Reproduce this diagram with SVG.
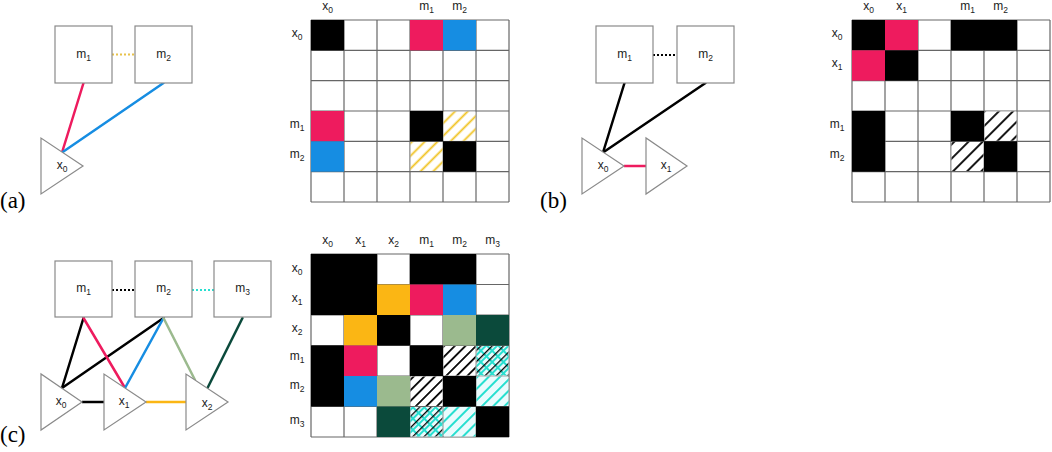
<svg xmlns="http://www.w3.org/2000/svg" width="1052" height="452" viewBox="0 0 1052 452">
<style>
.node rect,.node polygon{fill:#fff;stroke:#8a8a8a;stroke-width:1.2}
.lbl{font-size:12px;fill:#222;text-anchor:middle}
.sub{font-size:8.5px}
.pl{font-size:23px;fill:#000}
.e{stroke-width:2.5;fill:none;stroke-linecap:round}
.d{stroke-width:2.2;fill:none;stroke-linecap:butt;stroke-dasharray:2 2}
.grid line{stroke:#666;stroke-width:1.2}
.k{fill:#000}.p{fill:#EE1B5E}.b{fill:#168DE2}.y{fill:#FBB614}.s{fill:#9BBA8E}.g{fill:#0B4A3B}
</style>
<defs>
<pattern id="hy" width="9" height="9" patternUnits="userSpaceOnUse" patternTransform="rotate(45)">
<rect width="9" height="9" fill="#fff"/><line x1="4.5" y1="0" x2="4.5" y2="9" stroke="#F0C21E" stroke-width="1.8"/>
</pattern>
<pattern id="hkb" width="10" height="10" patternUnits="userSpaceOnUse" patternTransform="rotate(45)">
<rect width="10" height="10" fill="#fff"/><line x1="5" y1="0" x2="5" y2="10" stroke="#000" stroke-width="1.8"/>
</pattern>
<pattern id="hk" width="7.5" height="7.5" patternUnits="userSpaceOnUse" patternTransform="rotate(45)">
<rect width="7.5" height="7.5" fill="#fff"/><line x1="3.7" y1="0" x2="3.7" y2="7.5" stroke="#000" stroke-width="1.8"/>
</pattern>
<pattern id="hc" width="8" height="8" patternUnits="userSpaceOnUse" patternTransform="rotate(45)">
<rect width="8" height="8" fill="#EAFBFD"/><line x1="4" y1="0" x2="4" y2="8" stroke="#27DFD0" stroke-width="2"/>
</pattern>
<pattern id="hc2" width="8" height="8" patternUnits="userSpaceOnUse" patternTransform="rotate(-45)">
<line x1="4" y1="0" x2="4" y2="8" stroke="#27DFD0" stroke-width="2"/>
</pattern>
<pattern id="hk2" width="8" height="8" patternUnits="userSpaceOnUse" patternTransform="rotate(45)">
<line x1="0.5" y1="0" x2="0.5" y2="8" stroke="#000" stroke-width="1.6"/>
</pattern>
</defs>
<rect fill="#fff" x="0" y="0" width="1052" height="452"/>

<g font-family="'Liberation Sans', Arial, Helvetica, sans-serif">
<!-- ===== Panel (a) ===== -->
<g id="connectors-a">
<line class="d" x1="112" y1="54.5" x2="135" y2="54.5" stroke="#E8C24A"/>
<line class="e" x1="83.5" y1="83" x2="62" y2="152.5" stroke="#EE1B5E"/>
<line class="e" x1="163.5" y1="83" x2="62" y2="152.5" stroke="#168DE2"/>
</g>
<g id="a-m1" class="node"><rect x="55" y="26" width="57" height="57"/><text class="lbl" x="83.5" y="58">m<tspan class="sub" dy="3">1</tspan></text></g>
<g id="a-m2" class="node"><rect x="135" y="26" width="57" height="57"/><text class="lbl" x="163.5" y="58">m<tspan class="sub" dy="3">2</tspan></text></g>
<g id="a-x0" class="node"><polygon points="41,138 41,194 83,166"/><text class="lbl" x="62" y="169">x<tspan class="sub" dy="3">0</tspan></text></g>

<g id="matrix-a">
<g class="grid">
<line x1="311" y1="20" x2="509" y2="20"/><line x1="311" y1="50.33" x2="509" y2="50.33"/><line x1="311" y1="80.67" x2="509" y2="80.67"/><line x1="311" y1="111" x2="509" y2="111"/><line x1="311" y1="141.33" x2="509" y2="141.33"/><line x1="311" y1="171.67" x2="509" y2="171.67"/><line x1="311" y1="202" x2="509" y2="202"/>
<line x1="311" y1="20" x2="311" y2="202"/><line x1="344" y1="20" x2="344" y2="202"/><line x1="377" y1="20" x2="377" y2="202"/><line x1="410" y1="20" x2="410" y2="202"/><line x1="443" y1="20" x2="443" y2="202"/><line x1="476" y1="20" x2="476" y2="202"/><line x1="509" y1="20" x2="509" y2="202"/>
</g>
<rect class="k" x="311" y="20" width="33" height="30.33"/>
<rect class="p" x="410" y="20" width="33" height="30.33"/>
<rect class="b" x="443" y="20" width="33" height="30.33"/>
<rect class="p" x="311" y="111" width="33" height="30.33"/>
<rect class="b" x="311" y="141.33" width="33" height="30.33"/>
<rect class="k" x="410" y="111" width="33" height="30.33"/>
<rect class="k" x="443" y="141.33" width="33" height="30.33"/>
<rect fill="url(#hy)" x="443.6" y="111.6" width="31.8" height="29.1"/>
<rect fill="url(#hy)" x="410.6" y="141.9" width="31.8" height="29.1"/>
<text class="lbl" x="327.5" y="10">x<tspan class="sub" dy="3">0</tspan></text>
<text class="lbl" x="426.5" y="10">m<tspan class="sub" dy="3">1</tspan></text>
<text class="lbl" x="459.5" y="10">m<tspan class="sub" dy="3">2</tspan></text>
<text class="lbl" x="297" y="37">x<tspan class="sub" dy="3">0</tspan></text>
<text class="lbl" x="297" y="128">m<tspan class="sub" dy="3">1</tspan></text>
<text class="lbl" x="297" y="158">m<tspan class="sub" dy="3">2</tspan></text>
</g>

<!-- ===== Panel (b) ===== -->
<g id="connectors-b">
<line class="d" x1="653" y1="55" x2="677" y2="55" stroke="#000"/>
<line class="e" x1="624.5" y1="83" x2="603" y2="152.5" stroke="#000"/>
<line class="e" x1="705.5" y1="83" x2="603" y2="152.5" stroke="#000"/>
<line x1="624" y1="166" x2="646" y2="166" stroke="#EE1B5E" stroke-width="2.5"/>
</g>
<g id="b-m1" class="node"><rect x="596" y="26" width="57" height="57"/><text class="lbl" x="624.5" y="58">m<tspan class="sub" dy="3">1</tspan></text></g>
<g id="b-m2" class="node"><rect x="677" y="26" width="57" height="57"/><text class="lbl" x="705.5" y="58">m<tspan class="sub" dy="3">2</tspan></text></g>
<g id="b-x0" class="node"><polygon points="582,138 582,194 624,166"/><text class="lbl" x="603" y="169">x<tspan class="sub" dy="3">0</tspan></text></g>
<g id="b-x1" class="node"><polygon points="646,138 646,194 687,166"/><text class="lbl" x="666" y="169">x<tspan class="sub" dy="3">1</tspan></text></g>

<g id="matrix-b">
<g class="grid">
<line x1="852" y1="20" x2="1050" y2="20"/><line x1="852" y1="50.33" x2="1050" y2="50.33"/><line x1="852" y1="80.67" x2="1050" y2="80.67"/><line x1="852" y1="111" x2="1050" y2="111"/><line x1="852" y1="141.33" x2="1050" y2="141.33"/><line x1="852" y1="171.67" x2="1050" y2="171.67"/><line x1="852" y1="202" x2="1050" y2="202"/>
<line x1="852" y1="20" x2="852" y2="202"/><line x1="885" y1="20" x2="885" y2="202"/><line x1="918" y1="20" x2="918" y2="202"/><line x1="951" y1="20" x2="951" y2="202"/><line x1="984" y1="20" x2="984" y2="202"/><line x1="1017" y1="20" x2="1017" y2="202"/><line x1="1050" y1="20" x2="1050" y2="202"/>
</g>
<rect class="k" x="852" y="20" width="33" height="30.33"/>
<rect class="p" x="885" y="20" width="33" height="30.33"/>
<rect class="k" x="951" y="20" width="66" height="30.33"/>
<rect class="p" x="852" y="50.33" width="33" height="30.33"/>
<rect class="k" x="885" y="50.33" width="33" height="30.33"/>
<rect class="k" x="852" y="111" width="33" height="60.67"/>
<rect class="k" x="951" y="111" width="33" height="30.33"/>
<rect class="k" x="984" y="141.33" width="33" height="30.33"/>
<rect fill="url(#hkb)" x="984.6" y="111.6" width="31.8" height="29.1"/>
<rect fill="url(#hkb)" x="951.6" y="141.9" width="31.8" height="29.1"/>
<text class="lbl" x="868.5" y="10">x<tspan class="sub" dy="3">0</tspan></text>
<text class="lbl" x="901.5" y="10">x<tspan class="sub" dy="3">1</tspan></text>
<text class="lbl" x="967.5" y="10">m<tspan class="sub" dy="3">1</tspan></text>
<text class="lbl" x="1000.5" y="10">m<tspan class="sub" dy="3">2</tspan></text>
<text class="lbl" x="837" y="37">x<tspan class="sub" dy="3">0</tspan></text>
<text class="lbl" x="837" y="67">x<tspan class="sub" dy="3">1</tspan></text>
<text class="lbl" x="837" y="128">m<tspan class="sub" dy="3">1</tspan></text>
<text class="lbl" x="837" y="158">m<tspan class="sub" dy="3">2</tspan></text>
</g>

<!-- ===== Panel (c) ===== -->
<g id="connectors-c">
<line class="d" x1="112" y1="290" x2="135" y2="290" stroke="#000"/>
<line class="d" x1="192" y1="290" x2="214" y2="290" stroke="#27DFD0"/>
<line class="e" x1="83.5" y1="318" x2="62" y2="388" stroke="#000"/>
<line class="e" x1="163.5" y1="318" x2="62" y2="388" stroke="#000"/>
<line class="e" x1="83.5" y1="318" x2="125" y2="388" stroke="#EE1B5E"/>
<line class="e" x1="163.5" y1="318" x2="125" y2="388" stroke="#168DE2"/>
<line class="e" x1="163.5" y1="318" x2="195" y2="380" stroke="#9BBA8E"/>
<line class="e" x1="242.5" y1="318" x2="207.5" y2="388" stroke="#0B4A3B"/>
<line x1="82" y1="402" x2="104" y2="402" stroke="#000" stroke-width="2.5"/>
<line x1="146" y1="402" x2="186" y2="402" stroke="#FBB614" stroke-width="2.5"/>
</g>
<g id="c-m1" class="node"><rect x="55" y="261" width="57" height="56"/><text class="lbl" x="83.5" y="292">m<tspan class="sub" dy="3">1</tspan></text></g>
<g id="c-m2" class="node"><rect x="135" y="261" width="57" height="56"/><text class="lbl" x="163.5" y="292">m<tspan class="sub" dy="3">2</tspan></text></g>
<g id="c-m3" class="node"><rect x="214" y="261" width="57" height="56"/><text class="lbl" x="242.5" y="292">m<tspan class="sub" dy="3">3</tspan></text></g>
<g id="c-x0" class="node"><polygon points="41,374 41,430 82,402"/><text class="lbl" x="61" y="405">x<tspan class="sub" dy="3">0</tspan></text></g>
<g id="c-x1" class="node"><polygon points="104,374 104,430 146,402"/><text class="lbl" x="124" y="405">x<tspan class="sub" dy="3">1</tspan></text></g>
<g id="c-x2" class="node"><polygon points="186,374 186,430 228,402"/><text class="lbl" x="207" y="407">x<tspan class="sub" dy="3">2</tspan></text></g>

<g id="matrix-c">
<g class="grid">
<line x1="311" y1="254" x2="509" y2="254"/><line x1="311" y1="284.5" x2="509" y2="284.5"/><line x1="311" y1="315" x2="509" y2="315"/><line x1="311" y1="345.5" x2="509" y2="345.5"/><line x1="311" y1="376" x2="509" y2="376"/><line x1="311" y1="406.5" x2="509" y2="406.5"/><line x1="311" y1="437" x2="509" y2="437"/>
<line x1="311" y1="254" x2="311" y2="437"/><line x1="344" y1="254" x2="344" y2="437"/><line x1="377" y1="254" x2="377" y2="437"/><line x1="410" y1="254" x2="410" y2="437"/><line x1="443" y1="254" x2="443" y2="437"/><line x1="476" y1="254" x2="476" y2="437"/><line x1="509" y1="254" x2="509" y2="437"/>
</g>
<rect class="k" x="311" y="254" width="66" height="61"/>
<rect class="k" x="410" y="254" width="66" height="30.5"/>
<rect class="y" x="377" y="284.5" width="33" height="30.5"/>
<rect class="p" x="410" y="284.5" width="33" height="30.5"/>
<rect class="b" x="443" y="284.5" width="33" height="30.5"/>
<rect class="y" x="344" y="315" width="33" height="30.5"/>
<rect class="k" x="377" y="315" width="33" height="30.5"/>
<rect class="s" x="443" y="315" width="33" height="30.5"/>
<rect class="g" x="476" y="315" width="33" height="30.5"/>
<rect class="k" x="311" y="345.5" width="33" height="61"/>
<rect class="p" x="344" y="345.5" width="33" height="30.5"/>
<rect class="k" x="410" y="345.5" width="33" height="30.5"/>
<rect class="b" x="344" y="376" width="33" height="30.5"/>
<rect class="s" x="377" y="376" width="33" height="30.5"/>
<rect class="k" x="443" y="376" width="33" height="30.5"/>
<rect class="g" x="377" y="406.5" width="33" height="30.5"/>
<rect class="k" x="476" y="406.5" width="33" height="30.5"/>
<rect fill="url(#hk)" x="443.6" y="346.1" width="31.8" height="29.3"/>
<rect fill="url(#hk)" x="410.6" y="376.6" width="31.8" height="29.3"/>
<rect fill="url(#hc)" x="476.6" y="376.6" width="31.8" height="29.3"/>
<rect fill="url(#hc)" x="443.6" y="407.1" width="31.8" height="29.3"/>
<rect fill="url(#hc)" x="476.6" y="346.1" width="31.8" height="29.3"/>
<rect fill="url(#hc2)" x="476.6" y="346.1" width="31.8" height="29.3"/>
<rect fill="url(#hk2)" x="476.6" y="346.1" width="31.8" height="29.3"/>
<rect fill="url(#hc)" x="410.6" y="407.1" width="31.8" height="29.3"/>
<rect fill="url(#hc2)" x="410.6" y="407.1" width="31.8" height="29.3"/>
<rect fill="url(#hk2)" x="410.6" y="407.1" width="31.8" height="29.3"/>
<text class="lbl" x="327.5" y="244">x<tspan class="sub" dy="3">0</tspan></text>
<text class="lbl" x="360.5" y="244">x<tspan class="sub" dy="3">1</tspan></text>
<text class="lbl" x="393.5" y="244">x<tspan class="sub" dy="3">2</tspan></text>
<text class="lbl" x="426.5" y="244">m<tspan class="sub" dy="3">1</tspan></text>
<text class="lbl" x="459.5" y="244">m<tspan class="sub" dy="3">2</tspan></text>
<text class="lbl" x="492.5" y="244">m<tspan class="sub" dy="3">3</tspan></text>
<text class="lbl" x="297" y="272">x<tspan class="sub" dy="3">0</tspan></text>
<text class="lbl" x="297" y="302">x<tspan class="sub" dy="3">1</tspan></text>
<text class="lbl" x="297" y="332">x<tspan class="sub" dy="3">2</tspan></text>
<text class="lbl" x="297" y="360">m<tspan class="sub" dy="3">1</tspan></text>
<text class="lbl" x="297" y="389">m<tspan class="sub" dy="3">2</tspan></text>
<text class="lbl" x="297" y="424">m<tspan class="sub" dy="3">3</tspan></text>
</g>
</g>

<g font-family="'Liberation Serif', 'Times New Roman', Times, serif">
<text class="pl" x="0" y="208">(a)</text>
<text class="pl" x="540" y="208">(b)</text>
<text class="pl" x="0" y="442">(c)</text>
</g>
</svg>
